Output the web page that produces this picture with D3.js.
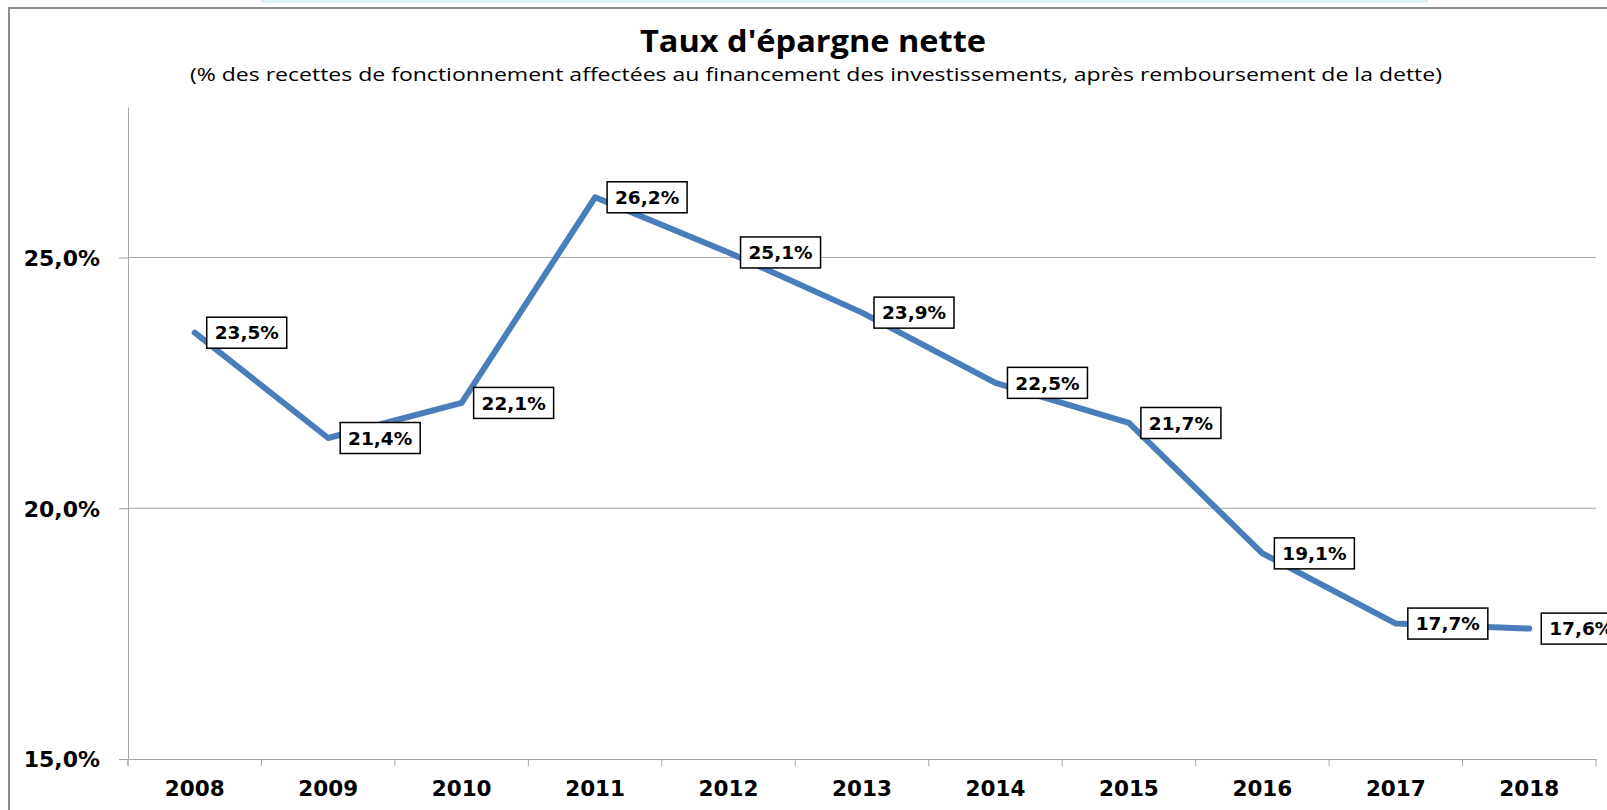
<!DOCTYPE html>
<html>
<head>
<meta charset="utf-8">
<script src="https://cdn.jsdelivr.net/npm/d3@7"></script>
<style>
  body { margin: 0; background: #fff; }
  #chart { width: 1607px; height: 810px; }
  .axis text { font-family: "DejaVu Sans", Verdana, sans-serif; font-weight: bold; fill: #000; }
  .axis path, .axis line { stroke: #a6a6a6; }
</style>
</head>
<body>
<div id="chart"></div>
<script>
// data
const years = ["2008", "2009", "2010", "2011", "2012", "2013", "2014", "2015", "2016", "2017", "2018"];
const rates = [23.5, 21.4, 22.1, 26.2, 25.1, 23.9, 22.5, 21.7, 19.1, 17.7, 17.6];
const yTicks = [15, 20, 25];
const yDomain = [15, 28];
const title = "Taux d'épargne nette";
const subtitle = "(% des recettes de fonctionnement affectées au financement des investissements, après remboursement de la dette)";

function drawChart(container) {

    const width = 1607, height = 810;
    const margin = { top: 107, right: 11, bottom: 51, left: 128 };

    const fr = d3.formatLocale({ decimal: ",", thousands: " ", grouping: [3], currency: ["", " €"] });
    const pct = v => fr.format(".1f")(v) + "%";

    const svg = d3.select("#" + container.id)
        .append("svg")
        .attr("width", width)
        .attr("height", height);

    // light strip at the very top and the frame of the chart area
    svg.append("rect")
        .attr("x", 261).attr("y", 0)
        .attr("width", 1167).attr("height", 3)
        .attr("fill", "#dff1f8");

    svg.append("path")
        .attr("d", "M9,810 V8 H1607")
        .attr("fill", "none")
        .attr("stroke", "#8c8c8c")
        .attr("stroke-width", 2);

    // titles
    svg.append("text")
        .attr("x", 813).attr("y", 52)
        .attr("text-anchor", "middle")
        .attr("font-family", "'Open Sans', sans-serif")
        .attr("font-weight", "bold")
        .attr("font-size", 30.5)
        .attr("textLength", 346)
        .attr("lengthAdjust", "spacingAndGlyphs")
        .text(title);

    svg.append("text")
        .attr("x", 816).attr("y", 81)
        .attr("text-anchor", "middle")
        .attr("font-family", "'Open Sans', sans-serif")
        .attr("font-size", 18)
        .attr("textLength", 1252)
        .attr("lengthAdjust", "spacingAndGlyphs")
        .text(subtitle);

    const x = d3.scaleBand()
        .domain(years)
        .range([margin.left, width - margin.right])
        .padding(0);

    const y = d3.scaleLinear()
        .domain(yDomain)
        .range([height - margin.bottom, margin.top]);

    // horizontal gridlines
    svg.append("g")
        .attr("class", "grid")
        .selectAll("line")
        .data(yTicks.filter(d => d !== yDomain[0]))
        .join("line")
        .attr("x1", x.range()[0])
        .attr("x2", x.range()[1])
        .attr("y1", d => y(d))
        .attr("y2", d => y(d))
        .attr("stroke", "#a6a6a6");

    // y axis
    svg.append("g")
        .attr("class", "axis")
        .attr("transform", "translate(" + margin.left + ",0)")
        .call(d3.axisLeft(y)
            .tickValues(yTicks)
            .tickSize(9)
            .tickSizeOuter(0)
            .tickPadding(19)
            .tickFormat(pct))
        .call(g => g.selectAll("text").attr("font-size", 22).attr("dy", "0.36em"));

    // extend the y axis line down to the bottom of the category ticks
    svg.append("line")
        .attr("x1", margin.left).attr("x2", margin.left)
        .attr("y1", y(yDomain[0])).attr("y2", y(yDomain[0]) + 7)
        .attr("stroke", "#a6a6a6");

    // x axis: labels centred in each category, ticks between categories
    const xAxis = svg.append("g")
        .attr("class", "axis")
        .attr("transform", "translate(0," + y(yDomain[0]) + ")")
        .call(d3.axisBottom(x)
            .tickSize(0)
            .tickSizeOuter(0)
            .tickPadding(22));
    xAxis.selectAll("text").attr("font-size", 21.5);

    const bounds = years.map(d => x(d)).concat([x.range()[1]]);
    xAxis.append("g")
        .selectAll("line")
        .data(bounds)
        .join("line")
        .attr("x1", d => d).attr("x2", d => d)
        .attr("y1", 0).attr("y2", 7)
        .attr("stroke", "#a6a6a6");

    // the line itself
    const points = years.map((d, i) => ({ year: d, value: rates[i] }));

    svg.append("path")
        .datum(points)
        .attr("fill", "none")
        .attr("stroke", "#4a7ebb")
        .attr("stroke-width", 6)
        .attr("stroke-linejoin", "round")
        .attr("stroke-linecap", "round")
        .attr("d", d3.line()
            .x(d => x(d.year) + x.bandwidth() / 2)
            .y(d => y(d.value)));

    // data labels, boxed, to the right of each point
    const labels = svg.append("g")
        .attr("class", "labels")
        .selectAll("g")
        .data(points)
        .join("g")
        .attr("transform", d => "translate(" + (x(d.year) + x.bandwidth() / 2 + 12) + "," + y(d.value) + ")");

    labels.append("rect")
        .attr("x", 0).attr("y", -15.5)
        .attr("width", 80).attr("height", 31)
        .attr("fill", "#fff")
        .attr("stroke", "#000")
        .attr("stroke-width", 1.5);

    labels.append("text")
        .attr("x", 40).attr("y", 0)
        .attr("dy", "0.36em")
        .attr("text-anchor", "middle")
        .attr("font-family", "'DejaVu Sans', Verdana, sans-serif")
        .attr("font-weight", "bold")
        .attr("font-size", 18.5)
        .text(d => pct(d.value));
}

drawChart(document.getElementById("chart"));
</script>
</body>
</html>
